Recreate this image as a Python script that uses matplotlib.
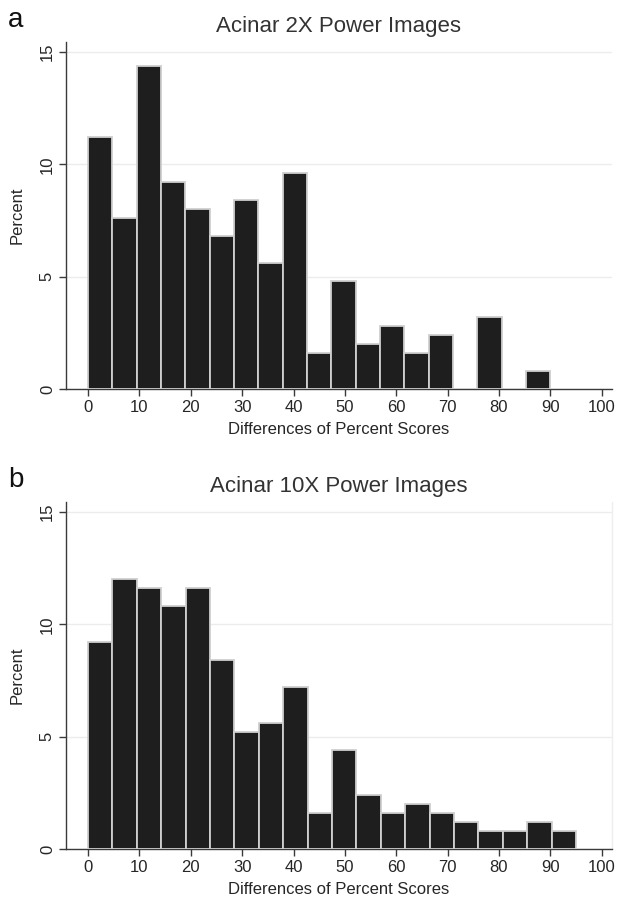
import matplotlib
matplotlib.use("Agg")
import matplotlib.pyplot as plt
import numpy as np

plt.rcParams['font.family'] = ['Liberation Sans', 'DejaVu Sans']

# Data (percent per bin)
top_title = "Acinar 2X Power Images"
top_bin_width = 90 / 19
top_percent = [11.2, 7.6, 14.4, 9.2, 8.0, 6.8, 8.4, 5.6, 9.6, 1.6,
               4.8, 2.0, 2.8, 1.6, 2.4, 0.0, 3.2, 0.0, 0.8]

bottom_title = "Acinar 10X Power Images"
bottom_bin_width = 95 / 20
bottom_percent = [9.2, 12.0, 11.6, 10.8, 11.6, 8.4, 5.2, 5.6, 7.2, 1.6,
                  4.4, 2.4, 1.6, 2.0, 1.6, 1.2, 0.8, 0.8, 1.2, 0.8]

x_ticks = list(range(0, 101, 10))
y_ticks = [0, 5, 10, 15]
x_label = "Differences of Percent Scores"
y_label = "Percent"
panel_letters = ["a", "b"]

W, H = 617, 900
fig = plt.figure(figsize=(W / 100, H / 100), dpi=100)

def ax_rect(left, top, right, bottom):
    return [left / W, 1 - bottom / H, (right - left) / W, (bottom - top) / H]

axes_px = [(66, 42, 612, 389), (66, 502, 612, 849)]
panels = [(top_title, top_bin_width, top_percent),
          (bottom_title, bottom_bin_width, bottom_percent)]

text_color = "#262626"
for i, ((title, bw, vals), rect) in enumerate(zip(panels, axes_px)):
    ax = fig.add_axes(ax_rect(*rect))
    edges = np.arange(len(vals)) * bw
    ax.bar(edges, vals, width=bw, align='edge', color='#1e1e1e',
           edgecolor='#cfcfcf', linewidth=1.3, zorder=3)
    ax.set_xlim(-4.3, 102)
    ax.set_ylim(0, 15.45)
    ax.set_xticks(x_ticks)
    ax.set_yticks(y_ticks)
    ax.set_yticklabels([str(v) for v in y_ticks], rotation=90, va='center')
    ax.grid(axis='y', color='#ececec', linewidth=1.0, zorder=0)
    ax.set_axisbelow(True)
    ax.spines['top'].set_visible(False)
    if i == 1:
        ax.spines['right'].set_color('#eeeeee')
        ax.spines['right'].set_linewidth(1.0)
    else:
        ax.spines['right'].set_visible(False)
    for s in ['left', 'bottom']:
        ax.spines[s].set_color('#3a3a3a')
        ax.spines[s].set_linewidth(1.0)
    ax.tick_params(axis='both', direction='out', length=5, width=1.0,
                   color='#3a3a3a', labelsize=12, labelcolor=text_color, pad=3)
    ax.set_xlabel(x_label, fontsize=12, color=text_color, labelpad=5)
    ax.set_ylabel(y_label, fontsize=12, color=text_color, labelpad=11)
    ax.set_title(title, fontsize=16, color='#333333', pad=7)
    fig.text(8 / W, 1 - (rect[1] - 22) / H, panel_letters[i], fontsize=20,
             color='#111111', va='center', ha='left')

fig.savefig("out.png", dpi=100)
